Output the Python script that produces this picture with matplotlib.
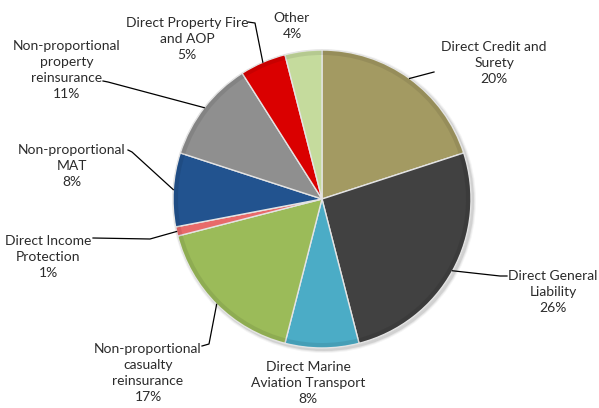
import numpy as np
import matplotlib.pyplot as plt

# Share of premiums by line of business (%)
categorias = [
    "Direct Credit and\nSurety",
    "Direct General\nLiability",
    "Direct Marine\nAviation Transport",
    "Non-proportional\ncasualty\nreinsurance",
    "Direct Income\nProtection",
    "Non-proportional\nMAT",
    "Non-proportional\nproperty\nreinsurance",
    "Direct Property Fire\nand AOP",
    "Other",
]
valores = [20, 26, 8, 17, 1, 8, 11, 5, 4]
cores = ["#A39A62", "#414141", "#4BACC6", "#9BBB59", "#E86A6A",
         "#22538F", "#8F8F8F", "#DA0000", "#C5DB9D"]

W, H = 599, 408

def px(x, y):
    # pixel coordinates (origin top-left) -> axes data
    return x, H - y

# label centre and leader-line points (pixel coordinates)
pos_rotulos = [(494, 63), (553, 292), (308, 383), (148, 373), (48, 257),
               (72, 166), (67, 70), (187, 39), (292, 26)]
guias = [
    [(434, 72)],
    [(507, 276), (500, 276)],
    [],
    [(202, 346), (209, 344)],
    [(93, 238), (150, 239)],
    [(128, 150), (132, 152)],
    [(103, 81), (108, 82)],
    [(248, 22), (255, 23)],
    [],
]

fig = plt.figure(figsize=(W / 100, H / 100), dpi=100)
ax = fig.add_axes([0, 0, 1, 1])

centro = px(322, 199)
raio = 149

# soft shadow behind the pie
for i, a in enumerate([0.04, 0.06, 0.09]):
    s = plt.Circle((centro[0] + 2, centro[1] - 2), raio + 3 - i, color="black",
                   alpha=a, lw=0)
    ax.add_patch(s)

fatias, _ = ax.pie(valores, colors=cores, startangle=90, counterclock=False,
                   center=centro, radius=raio, frame=True,
                   wedgeprops=dict(edgecolor="#E4E4E4", linewidth=1.0))

# darker rim on each slice for a bevel look
for f in fatias:
    aro = plt.matplotlib.patches.Wedge(f.center, f.r - 1, f.theta1, f.theta2,
                                       width=4, facecolor="black", alpha=0.08,
                                       lw=0)
    ax.add_patch(aro)

for f, nome, v, (lx, ly), guia in zip(fatias, categorias, valores,
                                       pos_rotulos, guias):
    ax.text(*px(lx, ly), f"{nome}\n{v}%", ha="center", va="center",
            fontsize=10, family="Lato", color="#2B2B2B", linespacing=1.38)
    if guia:
        meio = np.deg2rad((f.theta1 + f.theta2) / 2)
        borda = (f.center[0] + f.r * np.cos(meio), f.center[1] + f.r * np.sin(meio))
        xs = [px(*p)[0] for p in guia] + [borda[0]]
        ys = [px(*p)[1] for p in guia] + [borda[1]]
        ax.plot(xs, ys, color="black", lw=0.9)

ax.set_xlim(0, W)
ax.set_ylim(0, H)
ax.set_aspect("equal")
ax.axis("off")

fig.savefig("out.png", dpi=100)
